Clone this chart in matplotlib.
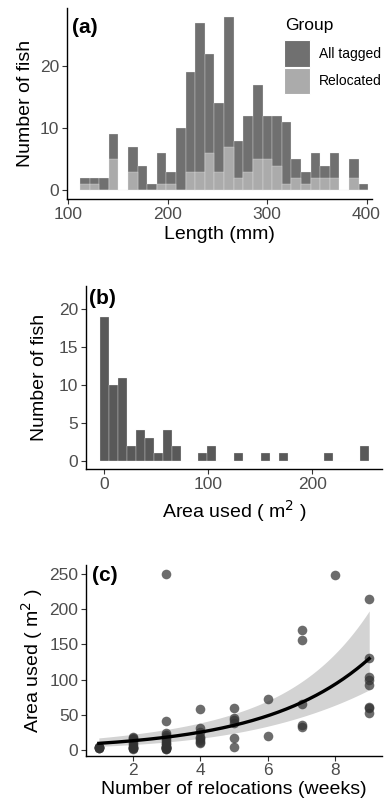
import numpy as np
import matplotlib
matplotlib.use('Agg')
import matplotlib.pyplot as plt
from matplotlib.patches import Patch

plt.rcParams['font.family'] = ['Liberation Sans', 'DejaVu Sans']

# (a) fish length histogram, 30 bins
len_min, len_max = 111.7, 401.7
all_tagged = [2, 2, 2, 9, 0, 7, 4, 1, 6, 3, 10, 19, 27, 22, 14, 28, 8, 12, 17, 12,
              12, 11, 5, 3, 6, 4, 6, 0, 5, 1]
relocated = [1, 1, 0, 5, 0, 3, 0, 0, 1, 1, 0, 3, 3, 6, 3, 7, 2, 3, 5, 5,
             4, 1, 2, 1, 2, 2, 2, 0, 2, 0]
group_labels = ['All tagged', 'Relocated']

# (b) area used histogram, 30 bins
area_min, area_max = -4.2, 254.0
area_counts = [19, 10, 11, 2, 4, 3, 1, 4, 2, 0, 0, 1, 2, 0, 0, 1, 0, 0, 1, 0,
               1, 0, 0, 0, 0, 1, 0, 0, 0, 2]

# (c) area vs number of relocations
n_reloc = [1, 1, 1, 1, 1, 1,
           2, 2, 2, 2, 2, 2, 2, 2, 2, 2, 2,
           3, 3, 3, 3, 3, 3, 3, 3, 3, 3, 3, 3, 3, 3, 3, 3, 3, 3,
           4, 4, 4, 4, 4, 4, 4, 4,
           5, 5, 5, 5, 5, 5,
           6, 6,
           7, 7, 7, 7, 7,
           8,
           9, 9, 9, 9, 9, 9, 9, 9]
area_used = [3.0, 3.5, 4.0, 4.0, 3.5, 4.2,
             1.5, 2.5, 3.0, 3.5, 4.0, 5.7, 8.5, 12.0, 15.0, 17.0, 19.0,
             1.5, 2.0, 2.5, 3.0, 3.5, 4.0, 4.2, 5.0, 6.0, 8.5, 10.0, 12.5, 15.0, 19.0, 21.0, 23.7, 41.7, 250.0,
             10.0, 12.0, 14.0, 16.6, 19.0, 26.0, 32.0, 58.0,
             4.0, 16.6, 38.0, 42.6, 46.0, 59.0,
             20.0, 72.0,
             33.0, 35.0, 65.0, 157.0, 171.0,
             248.0,
             52.0, 59.0, 61.5, 92.0, 99.4, 104.0, 131.0, 214.5]

# log-link fit and 95% band (log scale half width)
fit_b0, fit_b1 = 1.924, 0.327
ci_xc, ci_s0, ci_s1 = 6.5, 0.36, 0.086

dark = '#707070'
light = '#ababab'


def style(ax):
    for s in ['top', 'right']:
        ax.spines[s].set_visible(False)
    for s in ['left', 'bottom']:
        ax.spines[s].set_linewidth(1.0)
    ax.tick_params(length=3.5, width=0.8, color='#333333', labelsize=12.5,
                   labelcolor='#4d4d4d', pad=2)


fig = plt.figure(figsize=(3.86, 8.05), dpi=100)

# ---- (a)
ax = fig.add_axes([0.1728, 0.7528, 0.791, 0.2373])
edges = np.linspace(len_min, len_max, len(all_tagged) + 1)
w = edges[1] - edges[0]
ax.bar(edges[:-1], all_tagged, width=w, align='edge', color=dark, edgecolor='#f2f2f2', linewidth=0.2)
ax.bar(edges[:-1], relocated, width=w, align='edge', color=light, edgecolor='#f2f2f2', linewidth=0.2)
ax.set_xlim(98.4, 405.5)
ax.set_ylim(-1.4, 29.4)
ax.set_xticks([100, 200, 300, 400])
ax.set_yticks([0, 10, 20])
style(ax)
ax.set_xlabel('Length (mm)', fontsize=14, labelpad=3)
ax.set_ylabel('Number of fish', fontsize=14, labelpad=4)
ax.text(0.017, 0.948, '(a)', transform=ax.transAxes, fontsize=15, fontweight='bold', va='top')
fig.text(285 / 386, 1 - 18 / 805, 'Group', fontsize=12.5, va='top', ha='left')
handles = [Patch(facecolor=dark, edgecolor='white', linewidth=0.8),
           Patch(facecolor=light, edgecolor='white', linewidth=0.8)]
ax.legend(handles, group_labels, loc='upper left',
          bbox_to_anchor=(284 / 386, 1 - 40 / 805), bbox_transform=fig.transFigure,
          frameon=False, fontsize=10, handlelength=1.9, handleheight=2.6,
          handletextpad=0.6, labelspacing=0.05, borderpad=0, borderaxespad=0)

# ---- (b)
ax = fig.add_axes([0.2228, 0.4174, 0.767, 0.2273])
edges = np.linspace(area_min, area_max, len(area_counts) + 1)
w = edges[1] - edges[0]
ax.bar(edges[:-1], area_counts, width=w, align='edge', color='#595959', edgecolor='#f2f2f2', linewidth=0.2)
ax.set_xlim(-17.6, 267)
ax.set_ylim(-1.1, 23.1)
ax.set_xticks([0, 100, 200])
ax.set_yticks([0, 5, 10, 15, 20])
style(ax)
ax.set_xlabel('Area used ( m$^2$ )', fontsize=14, labelpad=5)
ax.set_ylabel('Number of fish', fontsize=14, labelpad=8)
ax.text(0.01, 0.985, '(b)', transform=ax.transAxes, fontsize=15, fontweight='bold', va='top')

# ---- (c)
ax = fig.add_axes([0.2228, 0.0612, 0.767, 0.2369])
xs = np.linspace(min(n_reloc), max(n_reloc), 200)
eta = fit_b0 + fit_b1 * xs
half = np.sqrt(ci_s0 ** 2 + ci_s1 ** 2 * (xs - ci_xc) ** 2)
ax.fill_between(xs, np.exp(eta - half), np.exp(eta + half), color='#d3d3d3', lw=0, zorder=1)
ax.scatter(n_reloc, area_used, s=48, color='#333333', alpha=0.72, lw=0, zorder=2)
ax.plot(xs, np.exp(eta), color='black', lw=2.4, zorder=3)
ax.set_xlim(0.62, 9.38)
ax.set_ylim(-8.1, 262.8)
ax.set_xticks([2, 4, 6, 8])
ax.set_yticks([0, 50, 100, 150, 200, 250])
style(ax)
ax.set_xlabel('Number of relocations (weeks)', fontsize=14, labelpad=2)
ax.set_ylabel('Area used ( m$^2$ )', fontsize=14, labelpad=3)
ax.text(0.02, 0.995, '(c)', transform=ax.transAxes, fontsize=15, fontweight='bold', va='top')

fig.savefig('out.png', dpi=100)
